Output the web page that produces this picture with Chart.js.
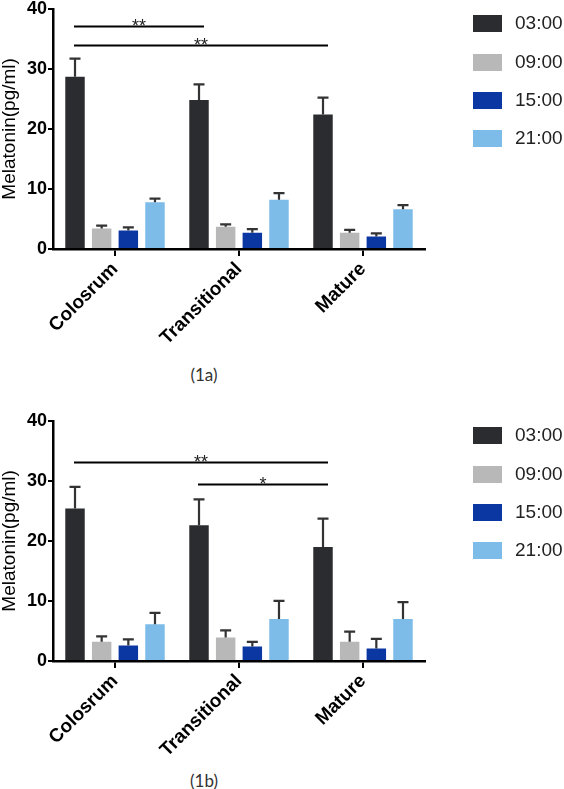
<!DOCTYPE html>
<html>
<head>
<meta charset="utf-8">
<script src="https://cdn.jsdelivr.net/npm/chart.js@4"></script>
<style>
  html, body { margin: 0; padding: 0; background: #fff; }
  #page { position: relative; width: 564px; height: 789px; overflow: hidden; font-family: "Liberation Sans", Arial, sans-serif; }
  .panel { position: absolute; left: 0; width: 564px; height: 350px; }
  .legend-item { position: absolute; left: 473px; height: 20px; }
  .legend-box { position: absolute; left: 0; top: 1px; width: 29px; height: 17px; }
  .legend-text { position: absolute; left: 42px; top: -2px; font-size: 19px; color: #222; white-space: nowrap; line-height: 22px; }
  .caption { position: absolute; width: 80px; text-align: center; font-family: Lato, "Open Sans", sans-serif; font-size: 17px; color: #333; }
</style>
</head>
<body>
<div id="page">
  <div class="panel" id="panel-a" style="top:-3px"><canvas id="chart-a"></canvas></div>
  <div class="panel" id="panel-b" style="top:409px"><canvas id="chart-b"></canvas></div>
  <div class="caption" style="left:164px; top:364px">(1a)</div>
  <div class="caption" style="left:164px; top:770px">(1b)</div>
</div>
<script>
// ── Data ─────────────────────────────────────────────────────────────────────
const GROUPS = ["Colosrum", "Transitional", "Mature"];
const TIMES = ["03:00", "09:00", "15:00", "21:00"];
const Y_TICKS = [0, 10, 20, 30, 40];

// (1a) means and error (upper whisker length)
const A_0300 = [28.7, 24.8, 22.4];
const A_0900 = [3.4, 3.7, 2.7];
const A_1500 = [3.1, 2.7, 2.1];
const A_2100 = [7.8, 8.2, 6.6];
const A_ERR_0300 = [3.0, 2.6, 2.8];
const A_ERR_0900 = [0.5, 0.4, 0.5];
const A_ERR_1500 = [0.5, 0.6, 0.5];
const A_ERR_2100 = [0.6, 1.1, 0.7];

// (1b)
const B_0300 = [25.4, 22.6, 19.0];
const B_0900 = [3.2, 3.9, 3.2];
const B_1500 = [2.6, 2.4, 2.1];
const B_2100 = [6.1, 7.0, 7.0];
const B_ERR_0300 = [3.6, 4.3, 4.7];
const B_ERR_0900 = [0.9, 1.2, 1.7];
const B_ERR_1500 = [1.0, 0.8, 1.6];
const B_ERR_2100 = [1.9, 3.0, 2.8];

// significance brackets: from group, to group, height (pg/ml), label
const A_SIG = [
  { from: 0, to: 1, y: 37.2, label: "**" },
  { from: 0, to: 2, y: 33.9, label: "**" },
];
const B_SIG = [
  { from: 0, to: 2, y: 33.1, label: "**" },
  { from: 1, to: 2, y: 29.4, label: "*" },
];

// ── Styles ───────────────────────────────────────────────────────────────────
const COLORS = ["#2b2c30", "#b8b8b8", "#0b37a2", "#7dbbe8"];
const FONT = "'Liberation Sans', Arial, sans-serif";
const AXIS_BOTTOM = 252;
const PANEL_H = 350;

// ── Plugins ──────────────────────────────────────────────────────────────────
const errorBars = {
  id: "errorBars",
  afterDatasetsDraw(chart) {
    const { ctx, scales: { y } } = chart;
    ctx.save();
    ctx.strokeStyle = "#333";
    ctx.lineWidth = 2.2;
    chart.data.datasets.forEach((ds, di) => {
      const meta = chart.getDatasetMeta(di);
      meta.data.forEach((bar, i) => {
        const top = y.getPixelForValue(ds.data[i] + ds.errors[i]);
        ctx.beginPath();
        ctx.moveTo(bar.x, bar.y);
        ctx.lineTo(bar.x, top);
        ctx.moveTo(bar.x - 5.5, top);
        ctx.lineTo(bar.x + 5.5, top);
        ctx.stroke();
      });
    });
    ctx.restore();
  },
};

const sigBrackets = {
  id: "sigBrackets",
  afterDraw(chart, args, opts) {
    const { ctx, scales: { y } } = chart;
    const first = chart.getDatasetMeta(0).data;
    ctx.save();
    ctx.strokeStyle = "#000";
    ctx.fillStyle = "#222";
    ctx.lineWidth = 2;
    ctx.font = "18px " + FONT;
    ctx.textAlign = "center";
    ctx.textBaseline = "alphabetic";
    (opts.items || []).forEach((b) => {
      const x1 = first[b.from].x - 1;
      const x2 = first[b.to].x + 5;
      const py = Math.round(y.getPixelForValue(b.y)) + 0.5;
      ctx.beginPath();
      ctx.moveTo(x1, py);
      ctx.lineTo(x2, py);
      ctx.stroke();
      ctx.fillText(b.label, (x1 + x2) / 2, py + 5);
    });
    ctx.restore();
  },
};

// ── Chart ────────────────────────────────────────────────────────────────────
function makeChart(canvasId, series, errors, brackets) {
  const ctx = document.getElementById(canvasId).getContext("2d");
  return new Chart(ctx, {
    type: "bar",
    data: {
      labels: GROUPS,
      datasets: TIMES.map((t, i) => ({
        label: t,
        data: series[i],
        errors: errors[i],
        backgroundColor: COLORS[i],
        borderWidth: 0,
        categoryPercentage: 0.86,
        barPercentage: 0.73,
      })),
    },
    options: {
      responsive: true,
      maintainAspectRatio: false,
      animation: false,
      layout: { padding: { top: 7, right: 139, left: 0, bottom: 0 } },
      plugins: {
        legend: { display: false },
        tooltip: { enabled: false },
        sigBrackets: { items: brackets },
      },
      scales: {
        x: {
          offset: true,
          ticks: {
            color: "#000",
            font: { family: FONT, size: 19, weight: "bold" },
            minRotation: 45,
            maxRotation: 45,
            padding: 2,
          },
          grid: { display: true, drawOnChartArea: false, drawTicks: true, tickLength: 7, offset: false, color: "#000", lineWidth: 2 },
          border: { color: "#000", width: 2.5 },
          afterFit: (s) => { s.height = PANEL_H - AXIS_BOTTOM; },
        },
        y: {
          min: Y_TICKS[0],
          max: Y_TICKS[Y_TICKS.length - 1],
          afterBuildTicks: (s) => { s.ticks = Y_TICKS.map((v) => ({ value: v })); },
          ticks: { color: "#000", font: { family: FONT, size: 18, weight: "bold" }, padding: 1 },
          grid: { display: true, drawOnChartArea: false, drawTicks: true, tickLength: 5, color: "#000", lineWidth: 2 },
          border: { color: "#000", width: 2.5 },
          title: { display: true, text: "Melatonin(pg/ml)", color: "#000", font: { family: FONT, size: 19, lineHeight: 1 }, padding: 0 },
          afterFit: (s) => { s.width = 53; },
        },
      },
    },
    plugins: [errorBars, sigBrackets],
  });
}

// ── Legends (HTML) ───────────────────────────────────────────────────────────
function addLegend(panelTop) {
  const page = document.getElementById("page");
  const centers = [24, 63, 101, 139];
  TIMES.forEach((t, i) => {
    const item = document.createElement("div");
    item.className = "legend-item";
    item.style.top = (panelTop + centers[i] - 10) + "px";
    item.innerHTML = `<div class="legend-box" style="background:${COLORS[i]}"></div><div class="legend-text">${t}</div>`;
    page.appendChild(item);
  });
}

makeChart("chart-a", [A_0300, A_0900, A_1500, A_2100], [A_ERR_0300, A_ERR_0900, A_ERR_1500, A_ERR_2100], A_SIG);
makeChart("chart-b", [B_0300, B_0900, B_1500, B_2100], [B_ERR_0300, B_ERR_0900, B_ERR_1500, B_ERR_2100], B_SIG);
addLegend(0);
addLegend(412);
</script>
</body>
</html>
